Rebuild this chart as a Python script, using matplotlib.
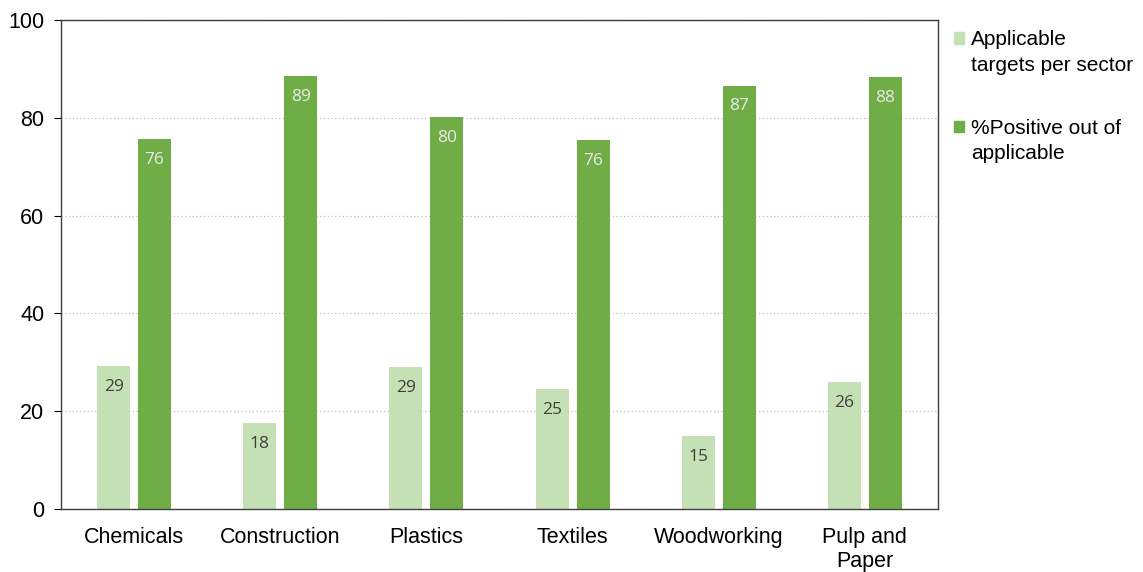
import matplotlib.pyplot as plt
import matplotlib.patches as mpatches
from matplotlib.legend_handler import HandlerPatch
import numpy as np

sectors = ['Chemicals', 'Construction', 'Plastics', 'Textiles', 'Woodworking', 'Pulp and\nPaper']
applicable = [29.3, 17.6, 29.0, 24.6, 15.0, 26.0]
positive = [75.6, 88.6, 80.2, 75.5, 86.6, 88.4]

light = '#c5e0b4'
dark = '#70ad47'

plt.rcParams['font.family'] = ['Liberation Sans', 'DejaVu Sans']

fig = plt.figure(figsize=(11.43, 5.72), dpi=100)
ax = fig.add_axes([0.0534, 0.110, 0.7672, 0.855])

x = np.arange(len(sectors))
w = 0.226
off = 0.14
b1 = ax.bar(x - off, applicable, w, color=light, zorder=2)
b2 = ax.bar(x + off, positive, w, color=dark, zorder=2)

for bars, vals, tc in [(b1, applicable, '#404040'), (b2, positive, '#eaeaea')]:
    for r, v in zip(bars, vals):
        ax.annotate(f'{round(v)}', (r.get_x() + r.get_width() / 2, v),
                    xytext=(0, -15), textcoords='offset points',
                    ha='center', va='center', fontsize=12.5, color=tc,
                    family=['Open Sans', 'DejaVu Sans'])

ax.set_xlim(-0.5, len(sectors) - 0.5)
ax.set_ylim(0, 100)
ax.set_yticks(np.arange(0, 101, 20))
ax.set_xticks(x)
ax.set_xticklabels(sectors)
ax.tick_params(axis='x', length=0, labelsize=15.5, pad=13, colors='black')
ax.tick_params(axis='y', length=5, labelsize=15.5, pad=7, colors='black', direction='out')
ax.yaxis.grid(True, linestyle=(0, (1, 2)), color='#bfbfbf', linewidth=0.9, zorder=0)
for s in ax.spines.values():
    s.set_color('#404040')
    s.set_linewidth(1.0)


# square sits next to the first line of the label
def up_square(legend, orig_handle, xdescent, ydescent, width, height, fontsize):
    return mpatches.Rectangle((-xdescent, -ydescent + 0.7 * fontsize), width, height)


handles = [mpatches.Patch(color=light, label='Applicable\ntargets per sector'),
           mpatches.Patch(color=dark, label='%Positive out of\napplicable')]
leg = fig.legend(handles=handles, loc='upper left', bbox_to_anchor=(0.827, 0.962),
                 frameon=False, fontsize=15, handlelength=0.5, handleheight=0.5,
                 handletextpad=0.35, labelspacing=2.1, borderaxespad=0,
                 handler_map={mpatches.Patch: HandlerPatch(patch_func=up_square)})
for t in leg.get_texts():
    t.set_linespacing(1.45)

fig.savefig('out.png', dpi=100)
